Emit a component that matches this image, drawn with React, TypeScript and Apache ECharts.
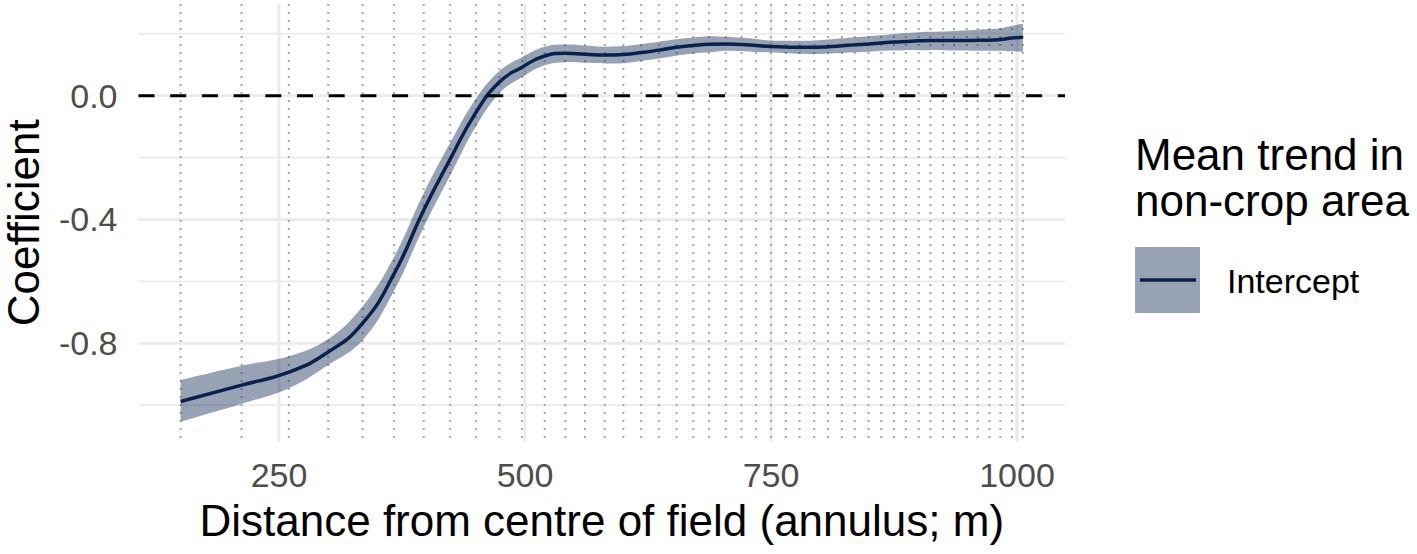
import React, { useEffect, useRef } from 'react';
import * as echarts from 'echarts';

// Distance from centre of field (annulus midpoints, m)
const distance = [
  150, 212, 260, 300, 335, 367, 397, 424, 450, 474,
  497, 520, 541, 561, 581, 600, 618, 636, 654, 671,
  687, 704, 720, 735, 750, 765, 779, 794, 808, 822,
  835, 849, 862, 875, 887, 900, 912, 925, 936, 949,
  960, 972, 983, 995, 1006,
];

// Mean trend (Intercept) coefficient
const meanTrend = [
  -0.988, -0.935, -0.893, -0.828, -0.735, -0.575, -0.37, -0.205, -0.055, 0.044,
  0.092, 0.128, 0.137, 0.134, 0.131, 0.133, 0.139, 0.147, 0.156, 0.162,
  0.166, 0.167, 0.165, 0.162, 0.159, 0.157, 0.156, 0.156, 0.158, 0.161,
  0.164, 0.167, 0.17, 0.173, 0.175, 0.177, 0.178, 0.178, 0.178, 0.178,
  0.179, 0.179, 0.181, 0.186, 0.189,
];

const lowerCI = [
  -1.053, -0.995, -0.945, -0.87, -0.79, -0.63, -0.425, -0.258, -0.1, 0.008,
  0.06, 0.098, 0.108, 0.106, 0.104, 0.105, 0.112, 0.12, 0.129, 0.136,
  0.14, 0.145, 0.144, 0.141, 0.14, 0.137, 0.135, 0.134, 0.136, 0.138,
  0.14, 0.142, 0.145, 0.146, 0.147, 0.147, 0.147, 0.147, 0.146, 0.146,
  0.145, 0.145, 0.145, 0.143, 0.141,
];

const upperCI = [
  -0.918, -0.872, -0.842, -0.786, -0.68, -0.52, -0.315, -0.152, -0.01, 0.08,
  0.124, 0.158, 0.165, 0.162, 0.158, 0.16, 0.166, 0.174, 0.182, 0.188,
  0.192, 0.19, 0.187, 0.183, 0.178, 0.177, 0.177, 0.178, 0.181, 0.185,
  0.189, 0.192, 0.195, 0.199, 0.202, 0.205, 0.206, 0.207, 0.209, 0.211,
  0.213, 0.215, 0.218, 0.226, 0.232,
];

const xTicks = [250, 500, 750, 1000];
const yTicks = [0, -0.4, -0.8];
const yMinorGrid = [0.2, -0.2, -0.6, -1.0];

const X_MIN = 107.2;
const X_MAX = 1048.8;
const Y_MIN = -1.117;
const Y_MAX = 0.296;

const FONT = '"Liberation Sans", Arial, Helvetica, sans-serif';
const NAVY = '#08224d';
const RIBBON = 'rgba(8,34,77,0.42)';
const GRID = '#ebebeb';

function hLines(values: number[], color: string, width: number, z: number, dash?: number[]) {
  return {
    type: 'custom',
    z,
    silent: true,
    data: values.map((v) => [X_MIN, v]),
    renderItem: (params: any, api: any) => {
      const cs = params.coordSys;
      const y = api.coord([X_MIN, api.value(1)])[1];
      return {
        type: 'line',
        shape: { x1: cs.x, y1: y, x2: cs.x + cs.width, y2: y },
        style: { stroke: color, lineWidth: width, lineDash: dash },
      };
    },
  };
}

function vLines(values: number[], color: string, width: number, z: number, dash?: number[]) {
  return {
    type: 'custom',
    z,
    silent: true,
    data: values.map((v) => [v, Y_MIN]),
    renderItem: (params: any, api: any) => {
      const cs = params.coordSys;
      const x = api.coord([api.value(0), Y_MIN])[0];
      return {
        type: 'line',
        shape: { x1: x, y1: cs.y, x2: x, y2: cs.y + cs.height },
        style: { stroke: color, lineWidth: width, lineDash: dash },
      };
    },
  };
}

export default function App() {
  const ref = useRef<HTMLDivElement>(null);

  useEffect(() => {
    const chart = echarts.init(ref.current!, null, { renderer: 'svg' });

    const option: any = {
      animation: false,
      backgroundColor: '#ffffff',
      grid: {
        left: 138.5,
        top: 4,
        width: 926.5,
        height: 437.5,
        containLabel: false,
        outerBoundsMode: 'none',
      },
      xAxis: {
        type: 'value',
        min: X_MIN,
        max: X_MAX,
        axisLine: { show: false },
        axisTick: { show: false },
        splitLine: { show: false },
        axisLabel: {
          customValues: xTicks,
          formatter: (v: number) => String(v),
          color: '#4d4d4d',
          fontSize: 34,
          fontFamily: FONT,
          margin: 16,
        },
        name: 'Distance from centre of field (annulus; m)',
        nameLocation: 'middle',
        nameGap: 57,
        nameTextStyle: { fontSize: 44, color: '#000', fontFamily: FONT },
      },
      yAxis: {
        type: 'value',
        min: Y_MIN,
        max: Y_MAX,
        axisLine: { show: false },
        axisTick: { show: false },
        splitLine: { show: false },
        axisLabel: {
          customValues: yTicks,
          formatter: (v: number) => v.toFixed(1),
          color: '#4d4d4d',
          fontSize: 34,
          fontFamily: FONT,
          margin: 21,
        },
        name: 'Coefficient',
        nameLocation: 'middle',
        nameGap: 93,
        nameTextStyle: { fontSize: 44, color: '#000', fontFamily: FONT },
      },
      series: [
        hLines(yMinorGrid, GRID, 1.8, 1),
        hLines(yTicks, GRID, 2.8, 1),
        vLines(xTicks, GRID, 3, 1),
        vLines(distance, '#a8a8a8', 2, 2, [2, 6]),
        {
          type: 'custom',
          z: 3,
          silent: true,
          data: [[distance[0], meanTrend[0]]],
          renderItem: (params: any, api: any) => {
            const up = distance.map((d, i) => api.coord([d, upperCI[i]]));
            const lo = distance.map((d, i) => api.coord([d, lowerCI[i]])).reverse();
            const pts = [up[0], ...up, up[up.length - 1], lo[0], ...lo, lo[lo.length - 1]];
            return {
              type: 'polygon',
              shape: { points: pts, smooth: 0.4 },
              style: { fill: RIBBON },
            };
          },
        },
        {
          type: 'line',
          z: 4,
          silent: true,
          smooth: true,
          showSymbol: false,
          symbol: 'none',
          data: distance.map((d, i) => [d, meanTrend[i]]),
          lineStyle: { color: NAVY, width: 3.5 },
        },
        hLines([0], '#000000', 3, 5, [16, 15.7]),
      ],
      graphic: [
        {
          type: 'text',
          x: 1135,
          y: 131,
          style: {
            text: 'Mean trend in\nnon-crop area',
            fontSize: 44,
            fontFamily: FONT,
            fill: '#000',
            lineHeight: 46,
            verticalAlign: 'top',
          },
        },
        {
          type: 'rect',
          shape: { x: 1135, y: 247, width: 65, height: 66 },
          style: { fill: RIBBON },
        },
        {
          type: 'line',
          shape: { x1: 1140, y1: 280, x2: 1196, y2: 280 },
          style: { stroke: NAVY, lineWidth: 3.5 },
        },
        {
          type: 'text',
          x: 1227,
          y: 281,
          style: {
            text: 'Intercept',
            fontSize: 34,
            fontFamily: FONT,
            fill: '#000',
            verticalAlign: 'middle',
          },
        },
      ],
    };

    chart.setOption(option);
    return () => chart.dispose();
  }, []);

  return (
    <div
      ref={ref}
      style={{ position: 'fixed', left: 0, top: 0, width: 1417, height: 554, background: '#fff' }}
    />
  );
}
